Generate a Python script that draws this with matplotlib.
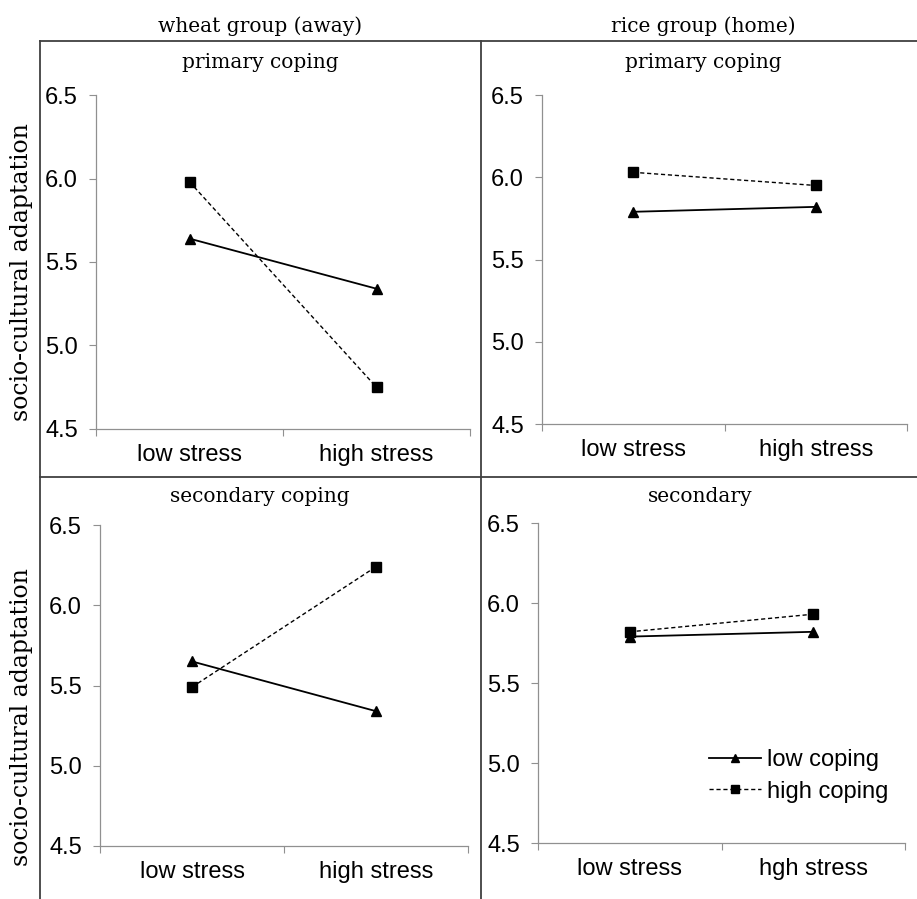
"""Stress x coping interaction plots for wheat vs rice groups."""

import matplotlib.pyplot as plt
from matplotlib.lines import Line2D

W, H = 917, 899

stress_levels = ["low stress", "high stress"]
stress_levels_br = ["low stress", "hgh stress"]

# socio-cultural adaptation means, [low stress, high stress]
wheat_primary_low = [5.64, 5.34]
wheat_primary_high = [5.98, 4.75]
rice_primary_low = [5.79, 5.82]
rice_primary_high = [6.03, 5.95]
wheat_secondary_low = [5.65, 5.34]
wheat_secondary_high = [5.49, 6.24]
rice_secondary_low = [5.79, 5.82]
rice_secondary_high = [5.82, 5.93]

y_ticks = [4.5, 5.0, 5.5, 6.0, 6.5]

SANS = ["Liberation Sans", "DejaVu Sans"]
SERIF = ["DejaVu Serif", "Liberation Serif"]
TICK_FS = 17
TITLE_FS = 14.5


def px_rect(left, top, right, bottom):
    return [left / W, 1 - bottom / H, (right - left) / W, (bottom - top) / H]


def fx(x):
    return x / W


def fy(y):
    return 1 - y / H


def draw_panel(fig, rect, low, high, labels):
    ax = fig.add_axes(rect)
    xs = [0.5, 1.5]
    ax.plot(xs, low, color="black", lw=1.3, marker="^", ms=7.5, label="low coping")
    ax.plot(xs, high, color="black", lw=1.0, ls=(0, (3, 2)), marker="s", ms=7,
            label="high coping")
    ax.set_xlim(0, 2)
    ax.set_ylim(4.5, 6.5)
    ax.set_yticks(y_ticks)
    ax.set_yticklabels([f"{v:.1f}" for v in y_ticks], fontfamily=SANS, fontsize=TICK_FS)
    ax.set_xticks([0, 1, 2])
    ax.set_xticklabels([])
    ax.set_xticks(xs, minor=True)
    ax.set_xticklabels(labels, minor=True, fontfamily=SANS, fontsize=TICK_FS)
    ax.tick_params(axis="x", which="minor", length=0, pad=11)
    ax.tick_params(axis="both", which="major", length=5, width=0.8, color="#909090")
    ax.tick_params(axis="y", pad=8)
    for side in ("top", "right"):
        ax.spines[side].set_visible(False)
    for side in ("left", "bottom"):
        ax.spines[side].set_color("#909090")
        ax.spines[side].set_linewidth(0.9)
    return ax


fig = plt.figure(figsize=(W / 100, H / 100), dpi=100)

draw_panel(fig, px_rect(96, 95, 470, 429), wheat_primary_low, wheat_primary_high, stress_levels)
draw_panel(fig, px_rect(542, 95, 907, 424), rice_primary_low, rice_primary_high, stress_levels)
draw_panel(fig, px_rect(100, 525, 468, 846), wheat_secondary_low, wheat_secondary_high, stress_levels)
ax_br = draw_panel(fig, px_rect(538, 523, 905, 843), rice_secondary_low, rice_secondary_high,
                   stress_levels_br)

ax_br.legend(loc="center left", bbox_to_anchor=(fx(709), fy(776)),
             bbox_transform=fig.transFigure, frameon=False, borderpad=0, borderaxespad=0,
             handlelength=2.2, handletextpad=0.25, labelspacing=0.4, markerscale=0.75,
             prop={"family": SANS, "size": TICK_FS})

# outer frame and dividers
frame_kw = dict(color="#404040", lw=1.3, transform=fig.transFigure)
fig.add_artist(Line2D([fx(40), 1], [fy(41), fy(41)], **frame_kw))
fig.add_artist(Line2D([fx(40), 1], [fy(477), fy(477)], **frame_kw))
fig.add_artist(Line2D([fx(40), fx(40)], [fy(41), 0], **frame_kw))
fig.add_artist(Line2D([fx(481), fx(481)], [fy(41), 0], **frame_kw))

# headers and panel titles
fig.text(fx(260), fy(26), "wheat group (away)", ha="center", va="center", family=SERIF, fontsize=TITLE_FS)
fig.text(fx(703), fy(26), "rice group (home)", ha="center", va="center", family=SERIF, fontsize=TITLE_FS)
fig.text(fx(260), fy(63), "primary coping", ha="center", va="center", family=SERIF, fontsize=TITLE_FS)
fig.text(fx(703), fy(63), "primary coping", ha="center", va="center", family=SERIF, fontsize=TITLE_FS)
fig.text(fx(260), fy(496), "secondary coping", ha="center", va="center", family=SERIF, fontsize=TITLE_FS)
fig.text(fx(700), fy(496), "secondary", ha="center", va="center", family=SERIF, fontsize=TITLE_FS)

fig.text(fx(22), fy(272), "socio-cultural adaptation", rotation=90, ha="center", va="center",
         family=SERIF, fontsize=17)
fig.text(fx(22), fy(717), "socio-cultural adaptation", rotation=90, ha="center", va="center",
         family=SERIF, fontsize=17)

fig.savefig("out.png", dpi=100)
